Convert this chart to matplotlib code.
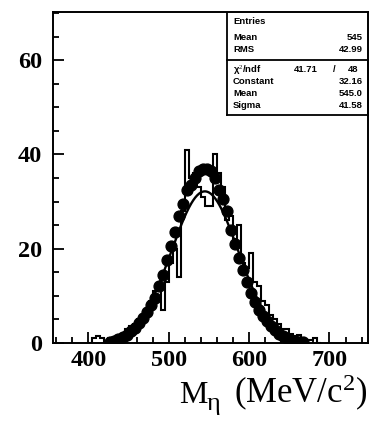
import numpy as np
import matplotlib
matplotlib.use("Agg")
import matplotlib.pyplot as plt
from matplotlib.ticker import MultipleLocator

plt.rcParams["mathtext.fontset"] = "custom"
plt.rcParams["mathtext.rm"] = "Liberation Serif"
plt.rcParams["mathtext.it"] = "Liberation Serif:italic"
plt.rcParams["mathtext.bf"] = "Liberation Serif:bold"

# ---- data ----
# open histogram: 5 MeV bins, left edges
hist_edges_left = [400, 405, 410, 415, 420, 425, 430, 435, 440, 445, 450, 455,
                   460, 465, 470, 475, 480, 485, 490, 495, 500, 505, 510, 515,
                   520, 525, 530, 535, 540, 545, 550, 555, 560, 565, 570, 575,
                   580, 585, 590, 595, 600, 605, 610, 615, 620, 625, 630, 635,
                   640, 645, 650, 655, 660, 665, 670, 675, 680, 685]
hist_counts = [0, 1, 1.5, 1, 0.5, 1, 1, 1.5, 2, 3, 3.5, 4,
               5, 6, 7, 9, 11, 12, 7, 13, 17, 20, 14, 28,
               41, 35, 36, 33, 31, 29, 29, 40, 36, 33, 26, 27,
               22, 25, 17, 16, 19, 13, 12, 9, 8, 6, 5, 4,
               3, 3, 2, 1.5, 1.8, 1, 0.6, 0.6, 1, 0]

# data points (filled circles)
pts_x = [427.5, 432.5, 437.5, 442.5, 447.5, 452.5, 457.5, 462.5, 467.5, 472.5,
         477.5, 482.5, 487.5, 492.5, 497.5, 502.5, 507.5, 512.5, 517.5, 522.5,
         527.5, 532.5, 537.5, 542.5, 547.5, 552.5, 557.5, 562.5, 567.5, 572.5,
         577.5, 582.5, 587.5, 592.5, 597.5, 602.5, 607.5, 612.5, 617.5, 622.5,
         627.5, 632.5, 637.5, 642.5, 647.5, 652.5, 657.5, 662.5, 667.5]
pts_y = [0.2, 0.4, 0.8, 1.2, 1.8, 2.5, 3.2, 4.2, 5.2, 6.5,
         8.0, 9.5, 12.0, 14.5, 17.5, 20.5, 23.5, 27.0, 29.5, 32.5,
         33.5, 35.0, 36.5, 36.8, 37.0, 36.5, 35.0, 32.5, 30.5, 28.0,
         24.0, 21.0, 18.0, 15.5, 13.0, 10.5, 8.8, 7.0, 5.8, 4.6,
         3.6, 2.8, 2.0, 1.5, 1.0, 0.7, 0.4, 0.3, 0.2]

# gaussian fit parameters (from stats box)
fit_const = 32.16
fit_mean = 545.0
fit_sigma = 41.58
fit_range = (430, 665)

stats_top = [("Entries", ""), ("Mean", "545"), ("RMS", "42.99")]
chi2_text = ("χ$^2$/ndf", "41.71", "/", "48")
stats_fit = [("Constant", "32.16"), ("Mean", "545.0"), ("Sigma", "41.58")]

x_ticks = [400, 500, 600, 700]
y_ticks = [0, 20, 40, 60]

# ---- figure ----
W, H = 370, 421
fig = plt.figure(figsize=(W / 100, H / 100), dpi=100)
ax = fig.add_axes([53 / W, 78 / H, (368 - 53) / W, (343 - 12) / H])

edges = list(hist_edges_left) + [hist_edges_left[-1] + 5]
ax.stairs(hist_counts, edges, color="black", linewidth=1.5, baseline=None)

ax.plot(pts_x, pts_y, "o", color="black", markersize=7.8, zorder=3)

xf = np.linspace(fit_range[0], fit_range[1], 300)
ax.plot(xf, fit_const * np.exp(-0.5 * ((xf - fit_mean) / fit_sigma) ** 2),
        color="black", linewidth=1.7, zorder=4)

ax.set_xlim(356, 748)
ax.set_ylim(0, 70.2)
ax.set_xticks(x_ticks)
ax.set_yticks(y_ticks)
ax.xaxis.set_minor_locator(MultipleLocator(20))
ax.yaxis.set_minor_locator(MultipleLocator(5))
ax.tick_params(which="both", direction="in", top=False, right=False,
               width=1.3, colors="black")
ax.tick_params(which="major", length=8)
ax.tick_params(which="minor", length=4.5)
ax.tick_params(axis="x", which="major", pad=5)
ax.tick_params(axis="y", which="major", pad=8)
for lab in ax.get_xticklabels() + ax.get_yticklabels():
    lab.set_fontfamily("Liberation Serif")
    lab.set_fontsize(17.5)
    lab.set_fontweight("bold")
for sp in ax.spines.values():
    sp.set_linewidth(1.4)

# x-axis title, built from pieces to match the original spacing
fig.text(179 / W, 1 - 403 / H, "M", ha="left", va="baseline",
         fontsize=23, family="Liberation Serif")
fig.text(207 / W, 1 - 410 / H, "η", ha="left", va="baseline",
         fontsize=19, family="Liberation Serif")
fig.text(367 / W, 1 - 403 / H, r"(MeV/c$^{\mathrm{2}}$)", ha="right",
         va="baseline", fontsize=25, family="Liberation Serif")

# ---- stats box ----
bx0, bx1 = 227 / W, 368 / W
by_top, by_mid, by_bot = 1 - 13 / H, 1 - 60 / H, 1 - 115 / H
lw = 1.3
for (xa, ya, xb, yb) in [(bx0, by_top, bx0, by_bot), (bx0, by_bot, bx1, by_bot),
                         (bx1, by_mid, bx1, by_bot), (bx0, by_mid, bx1, by_mid)]:
    fig.add_artist(plt.Line2D([xa, xb], [ya, yb], color="black", lw=lw,
                              transform=fig.transFigure))

fs = 6.8
def txt(x, y, s, ha):
    fig.text(x / W, 1 - y / H, s, ha=ha, va="center", fontsize=fs,
             fontweight="bold", family="Liberation Sans")

for (n, v), y in zip(stats_top, [21, 37, 50]):
    txt(233, y, n, "left")
    txt(363, y, v, "right")
txt(233, 69, chi2_text[0], "left")
txt(318, 69, chi2_text[1], "right")
txt(334, 69, chi2_text[2], "center")
txt(358, 69, chi2_text[3], "right")
for (n, v), y in zip(stats_fit, [82, 94, 106]):
    txt(233, y, n, "left")
    txt(363, y, v, "right")

fig.savefig("out.png", dpi=100)
